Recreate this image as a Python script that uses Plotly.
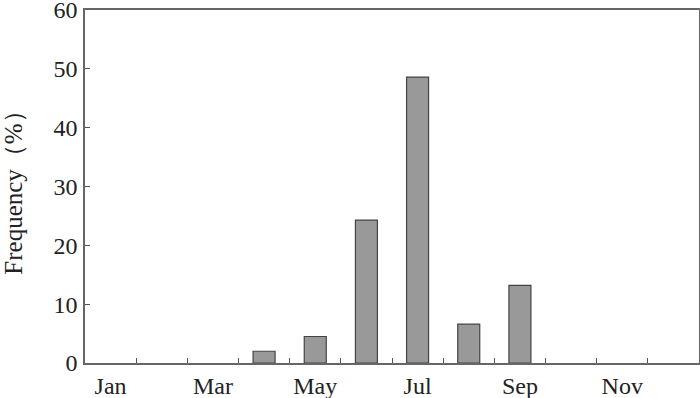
import plotly.graph_objects as go

months = ["Jan", "Feb", "Mar", "Apr", "May", "Jun", "Jul", "Aug", "Sep", "Oct", "Nov", "Dec"]
tick_text = ["Jan", "", "Mar", "", "May", "", "Jul", "", "Sep", "", "Nov", ""]
frequency = [None, None, None, 2.0, 4.5, 24.3, 48.6, 6.6, 13.2, None, None, None]
y_ticks = [0, 10, 20, 30, 40, 50, 60]

font_family = "Liberation Serif"
text_color = "#222222"

fig = go.Figure(
    go.Bar(
        x=months,
        y=frequency,
        marker=dict(color="#999999", line=dict(color="#444444", width=1.2)),
    )
)

fig.update_layout(
    width=700,
    height=398,
    margin=dict(l=85, r=1, t=10, b=35),
    paper_bgcolor="white",
    plot_bgcolor="white",
    bargap=0.57,
    showlegend=False,
    font=dict(family=font_family, size=24, color=text_color),
)

fig.update_xaxes(
    type="category",
    categoryorder="array",
    categoryarray=months,
    tickmode="array",
    tickvals=months,
    ticktext=tick_text,
    tickson="boundaries",
    tickangle=0,
    automargin=False,
    ticks="inside",
    ticklen=5,
    tickwidth=1.2,
    tickcolor="#555555",
    showline=True,
    linecolor="#666666",
    linewidth=1.5,
    mirror=True,
    showgrid=False,
    zeroline=False,
    ticklabelstandoff=0,
    tickfont=dict(family=font_family, size=24, color=text_color),
)

fig.update_yaxes(
    range=[0, 60],
    tickmode="array",
    tickvals=y_ticks,
    automargin=False,
    ticklabeloverflow="allow",
    ticks="inside",
    ticklen=5,
    tickwidth=1.2,
    tickcolor="#555555",
    showline=True,
    linecolor="#666666",
    linewidth=1.5,
    mirror=True,
    showgrid=False,
    zeroline=False,
    ticklabelstandoff=1,
    tickfont=dict(family=font_family, size=24, color=text_color),
    title=dict(text="Frequency（%）", font=dict(family=font_family, size=25, color=text_color), standoff=26),
)

fig.write_html(
    "out.html",
    config={"responsive": False, "displayModeBar": False},
    post_script="document.body.style.margin='0';document.body.style.overflow='hidden';",
)
